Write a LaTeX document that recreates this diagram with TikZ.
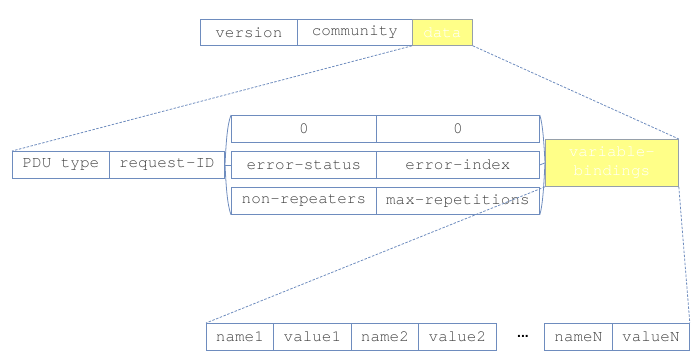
\documentclass[tikz,border=0pt]{standalone}
\usepackage{fontspec}
\setmainfont{TeX Gyre Cursor}
\newfontfamily\dotsfont{Liberation Sans}
\definecolor{edge}{RGB}{110,140,190}
\definecolor{ylw}{RGB}{255,255,136}
\definecolor{ylwedge}{RGB}{150,160,170}
\definecolor{txt}{RGB}{64,64,64}
\tikzset{
  cell/.style={draw=edge, line width=0.8bp, anchor=north west, inner sep=0pt,
    text=txt, font=\fontsize{16}{18}\selectfont},
  ycell/.style={cell, fill=ylw, draw=ylwedge, text=white},
  dashlink/.style={draw=edge, line width=0.8bp, dash pattern=on 2.5bp off 1.5bp},
  braceline/.style={draw=edge, line width=0.8bp},
}
\newcommand{\cellat}[7]{% style, name, x1, y1, x2, y2, text
  \node[#1, minimum width={(#5-#3)*1bp}, minimum height={(#6-#4)*1bp}] (#2) at (#3,#4) {#7};}
\begin{document}
\begin{tikzpicture}[x=1bp, y=-1bp]
\useasboundingbox (0,0) rectangle (694,360);
% top row
\cellat{cell}{version}{200}{19}{297}{45}{version}
\cellat{cell}{community}{297}{19}{412}{45}{community}
\cellat{ycell}{data}{412}{19}{472}{45}{data}
% middle row
\cellat{cell}{pdu}{12}{151}{109}{178}{PDU type}
\cellat{cell}{reqid}{109}{151}{224}{178}{request-ID}
\cellat{cell}{za}{231}{115}{376}{142}{0}
\cellat{cell}{zb}{376}{115}{539}{142}{0}
\cellat{cell}{es}{231}{151}{376}{178}{error-status}
\cellat{cell}{ei}{376}{151}{539}{178}{error-index}
\cellat{cell}{nr}{231}{187}{376}{214}{non-repeaters}
\cellat{cell}{mr}{376}{187}{539}{214}{max-repetitions}
\node[ycell, minimum width=133bp, minimum height=47bp, align=center,
  font=\fontsize{16}{19}\selectfont] (vb) at (545,139) {variable-\\bindings};
% bottom row
\cellat{cell}{na}{206}{323}{273}{350}{name1}
\cellat{cell}{va}{273}{323}{351}{350}{value1}
\cellat{cell}{nb}{351}{323}{418}{350}{name2}
\cellat{cell}{vb2}{418}{323}{496}{350}{value2}
\node[font=\dotsfont\bfseries\fontsize{14}{16}\selectfont, text=black, inner sep=0pt] (dots) at (523,336) {...};
\cellat{cell}{nn}{544}{323}{612}{350}{nameN}
\cellat{cell}{vn}{612}{323}{689}{350}{valueN}
% braces
\coordinate (lt) at (225,164.5);
\coordinate (rt) at (545,162.5);
\draw[braceline] (za.north west) .. controls (227,125) and (226,145) .. (lt)
  .. controls (226,184) and (227,204) .. (nr.south west);
\draw[braceline] (reqid.east) -- (es.west);
\draw[braceline] (zb.north east) .. controls (543,125) and (544,145) .. (rt)
  .. controls (544,182) and (543,204) .. (mr.south east);
\draw[braceline] (ei.east) -- (vb.west);
% dashed links
\draw[dashlink] (data.south west) -- (pdu.north west);
\draw[dashlink] (data.south east) -- (vb.north east);
\draw[dashlink] (vb.south west) -- (na.north west);
\draw[dashlink] (vb.south east) -- (vn.north east);
\end{tikzpicture}
\end{document}
